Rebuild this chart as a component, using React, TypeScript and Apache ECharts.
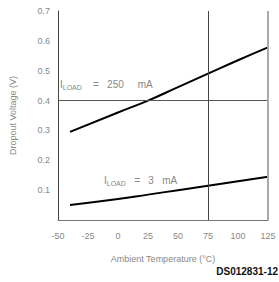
import React, { useEffect, useRef } from "react";
import * as echarts from "echarts";

const temps = [-40, 0, 25, 50, 75, 100, 125];
const load250 = [0.295, 0.36, 0.4, 0.445, 0.49, 0.535, 0.578];
const load3 = [0.05, 0.07, 0.085, 0.1, 0.115, 0.13, 0.145];
const xTicks = [-50, -25, 0, 25, 50, 75, 100, 125];

export default function App() {
  const ref = useRef<HTMLDivElement>(null);
  useEffect(() => {
    document.body.style.margin = "0";
    const chart = echarts.init(ref.current!, undefined, { renderer: "svg" });
    const font = "'Liberation Sans', Arial, sans-serif";
    const gray = "#888";
    chart.setOption({
      animation: false,
      backgroundColor: "#fff",
      grid: { left: 57, top: 11, right: 11, bottom: 62 },
      xAxis: {
        type: "value",
        min: -50,
        max: 125,
        interval: 25,
        name: "Ambient Temperature (°C)",
        nameLocation: "middle",
        nameGap: 34,
        nameTextStyle: { color: gray, fontSize: 9, fontFamily: font },
        axisLine: { show: true, onZero: false, lineStyle: { color: "#777", width: 1 } },
        axisTick: { show: false },
        splitLine: { show: false },
        axisLabel: {
          color: gray,
          fontSize: 9,
          fontFamily: font,
          margin: 11,
          showMinLabel: true,
          showMaxLabel: true,
          hideOverlap: false,
          formatter: (v: number) => (xTicks.includes(v) ? String(v) : ""),
        },
      },
      yAxis: {
        type: "value",
        min: 0,
        max: 0.7,
        interval: 0.1,
        name: "Dropout Voltage (V)",
        nameLocation: "middle",
        nameGap: 41,
        nameTextStyle: { color: gray, fontSize: 9, fontFamily: font },
        axisLine: { show: true, onZero: false, lineStyle: { color: "#444", width: 1 } },
        axisTick: { show: false },
        splitLine: { show: false },
        axisLabel: {
          color: gray,
          fontSize: 9,
          fontFamily: font,
          margin: 8,
          showMinLabel: false,
          formatter: (v: number) => (v === 0 ? "" : v.toFixed(1)),
        },
      },
      series: [
        {
          type: "line",
          data: temps.map((t, i) => [t, load250[i]]),
          smooth: true,
          symbol: "none",
          lineStyle: { color: "#000", width: 2 },
          markLine: {
            silent: true,
            symbol: "none",
            label: { show: false },
            data: [
              { yAxis: 0.4, lineStyle: { color: "#555", width: 1, type: "solid" } },
              { xAxis: 75, lineStyle: { color: "#444", width: 1, type: "solid" } },
              { xAxis: 125, lineStyle: { color: "#aaa", width: 2, type: "solid" } },
            ],
          },
        },
        {
          type: "line",
          data: temps.map((t, i) => [t, load3[i]]),
          smooth: true,
          symbol: "none",
          lineStyle: { color: "#000", width: 2 },
        },
      ],
      graphic: [
        {
          type: "text",
          left: 60,
          top: 79,
          style: {
            text: "{a|I}{s|LOAD}{a|    =   250     mA}",
            rich: {
              a: { fontSize: 10, fill: gray, fontFamily: font },
              s: { fontSize: 7, fill: gray, fontFamily: font, padding: [6, 0, 0, 0] },
            },
          },
        },
        {
          type: "text",
          left: 104,
          top: 175,
          style: {
            text: "{a|I}{s|LOAD}{a|   =   3   mA}",
            rich: {
              a: { fontSize: 10, fill: gray, fontFamily: font },
              s: { fontSize: 7, fill: gray, fontFamily: font, padding: [6, 0, 0, 0] },
            },
          },
        },
        {
          type: "text",
          right: 1,
          top: 266,
          style: {
            text: "DS012831-12",
            fontSize: 10,
            fontWeight: "bold",
            fill: "#111",
            fontFamily: font,
          },
        },
      ],
    });
    return () => chart.dispose();
  }, []);
  return <div ref={ref} style={{ width: 279, height: 282 }} />;
}
